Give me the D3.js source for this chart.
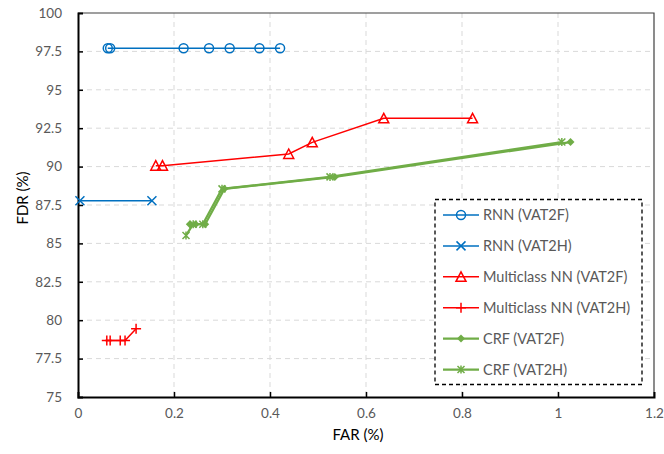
<!DOCTYPE html>
<html>
<head>
<meta charset="utf-8">
<script src="https://cdn.jsdelivr.net/npm/d3@7"></script>
<style>
  body { margin: 0; background: #fff; }
  svg text { font-family: Lato, "Open Sans", sans-serif; }
</style>
</head>
<body>
<div id="chart"></div>
<script>
// data: [FAR, FDR]
const rnnF = [[0.062, 97.7], [0.067, 97.7], [0.22, 97.7], [0.273, 97.7], [0.316, 97.7], [0.378, 97.7], [0.421, 97.7]];
const rnnH = [[0.004, 87.78], [0.154, 87.78]];
const mnnF = [[0.162, 90.06], [0.176, 90.06], [0.439, 90.82], [0.488, 91.58], [0.637, 93.14], [0.822, 93.14]];
const mnnH = [[0.06, 78.68], [0.067, 78.68], [0.088, 78.68], [0.098, 78.68], [0.121, 79.45]];
const crfF = [[0.233, 86.25], [0.245, 86.25], [0.265, 86.25], [0.305, 88.55], [0.535, 89.33], [1.026, 91.6]];
const crfH = [[0.225, 85.52], [0.24, 86.25], [0.26, 86.25], [0.3, 88.55], [0.525, 89.33], [1.008, 91.6]];
const xTicks = [0, 0.2, 0.4, 0.6, 0.8, 1, 1.2];
const yTicks = [75, 77.5, 80, 82.5, 85, 87.5, 90, 92.5, 95, 97.5, 100];

const series = [
  { name: "RNN (VAT2F)", data: rnnF, color: "#0070C0", width: 1.5, marker: "circle" },
  { name: "RNN (VAT2H)", data: rnnH, color: "#0070C0", width: 1.5, marker: "x" },
  { name: "Multiclass NN (VAT2F)", data: mnnF, color: "#FF0000", width: 1.5, marker: "triangle" },
  { name: "Multiclass NN (VAT2H)", data: mnnH, color: "#FF0000", width: 1.5, marker: "plus" },
  { name: "CRF (VAT2F)", data: crfF, color: "#70AD47", width: 2.25, marker: "diamond" },
  { name: "CRF (VAT2H)", data: crfH, color: "#70AD47", width: 2.25, marker: "star" }
];

const W = 664, H = 454;
const m = { top: 13, right: 10, bottom: 57, left: 78 };

const svg = d3.select("#chart").append("svg")
  .attr("width", W).attr("height", H);

const x = d3.scaleLinear().domain([0, 1.2]).range([m.left, W - m.right]);
const y = d3.scaleLinear().domain([75, 100]).range([H - m.bottom, m.top]);

// grid
svg.append("g").selectAll("line").data(xTicks.slice(1, -1)).join("line")
  .attr("x1", d => x(d)).attr("x2", d => x(d))
  .attr("y1", y(100)).attr("y2", y(75))
  .attr("stroke", "#D9D9D9").attr("stroke-dasharray", "5,4");
svg.append("g").selectAll("line").data(yTicks.slice(1, -1)).join("line")
  .attr("x1", x(0)).attr("x2", x(1.2))
  .attr("y1", d => y(d)).attr("y2", d => y(d))
  .attr("stroke", "#D9D9D9").attr("stroke-dasharray", "5,4");

// top and right border
svg.append("path")
  .attr("d", `M${x(0)},${y(100)}H${x(1.2)}V${y(75)}`)
  .attr("fill", "none").attr("stroke", "#404040").attr("stroke-width", 1.2);

// axes
const gx = svg.append("g").attr("transform", `translate(0,${y(75)})`)
  .call(d3.axisBottom(x).tickValues(xTicks).tickFormat(d => d).tickSize(-5).tickPadding(11));
const gy = svg.append("g").attr("transform", `translate(${x(0)},0)`)
  .call(d3.axisLeft(y).tickValues(yTicks).tickFormat(d => d).tickSize(-5).tickPadding(16));
[gx, gy].forEach(g => {
  g.select(".domain").attr("stroke", "#000").attr("stroke-width", 2);
  g.selectAll(".tick line").attr("stroke", "#000").attr("stroke-width", 1.5);
  g.selectAll(".tick text").attr("fill", "#595959").style("font-size", "13.5px");
});
gx.selectAll(".tick line").filter(d => d === 0 || d === 1.2).remove();
gy.selectAll(".tick line").filter(d => d === 75 || d === 100).remove();

// axis titles
svg.append("text").attr("x", 358).attr("y", 440).attr("text-anchor", "middle")
  .style("font-size", "15px").attr("fill", "#000").text("FAR (%)");
svg.append("text").attr("transform", "translate(28,198) rotate(-90)").attr("text-anchor", "middle")
  .style("font-size", "15px").attr("fill", "#000").text("FDR (%)");

// markers
function drawMarker(g, type, color) {
  if (type === "circle") {
    g.append("circle").attr("r", 4.5).attr("fill", "none")
      .attr("stroke", color).attr("stroke-width", 1.5);
  } else if (type === "x") {
    g.append("path").attr("d", "M-4.5,-4.5L4.5,4.5M-4.5,4.5L4.5,-4.5")
      .attr("stroke", color).attr("stroke-width", 1.5);
  } else if (type === "triangle") {
    g.append("path").attr("d", "M0,-5L5,4.5H-5Z").attr("fill", "none")
      .attr("stroke", color).attr("stroke-width", 1.5);
  } else if (type === "plus") {
    g.append("path").attr("d", "M-5,0H5M0,-5V5")
      .attr("stroke", color).attr("stroke-width", 1.5);
  } else if (type === "diamond") {
    g.append("path").attr("d", "M0,-4L4,0L0,4L-4,0Z").attr("fill", color);
  } else if (type === "star") {
    g.append("path").attr("d", "M-3.5,-3.5L3.5,3.5M-3.5,3.5L3.5,-3.5M0,-4V4")
      .attr("stroke", color).attr("stroke-width", 1.5);
  }
}

const line = d3.line().x(d => x(d[0])).y(d => y(d[1]));
series.forEach(s => {
  svg.append("path").datum(s.data).attr("d", line)
    .attr("fill", "none").attr("stroke", s.color).attr("stroke-width", s.width);
});
series.forEach(s => {
  svg.append("g").selectAll("g").data(s.data).join("g")
    .attr("transform", d => `translate(${x(d[0])},${y(d[1])})`)
    .each(function () { drawMarker(d3.select(this), s.marker, s.color); });
});

// legend
const lg = svg.append("g");
lg.append("rect").attr("x", 435).attr("y", 199.5).attr("width", 207).attr("height", 185)
  .attr("fill", "#fff").attr("stroke", "#000").attr("stroke-width", 1.3).attr("stroke-dasharray", "4,3");
series.forEach((s, i) => {
  const ly = 215 + i * 30.9;
  const row = lg.append("g");
  row.append("line").attr("x1", 443).attr("x2", 479).attr("y1", ly).attr("y2", ly)
    .attr("stroke", s.color).attr("stroke-width", s.width);
  drawMarker(row.append("g").attr("transform", `translate(461,${ly})`), s.marker, s.color);
  row.append("text").attr("x", 483).attr("y", ly).attr("dy", "0.35em")
    .style("font-size", "14.5px").attr("fill", "#595959").text(s.name);
});
</script>
</body>
</html>
